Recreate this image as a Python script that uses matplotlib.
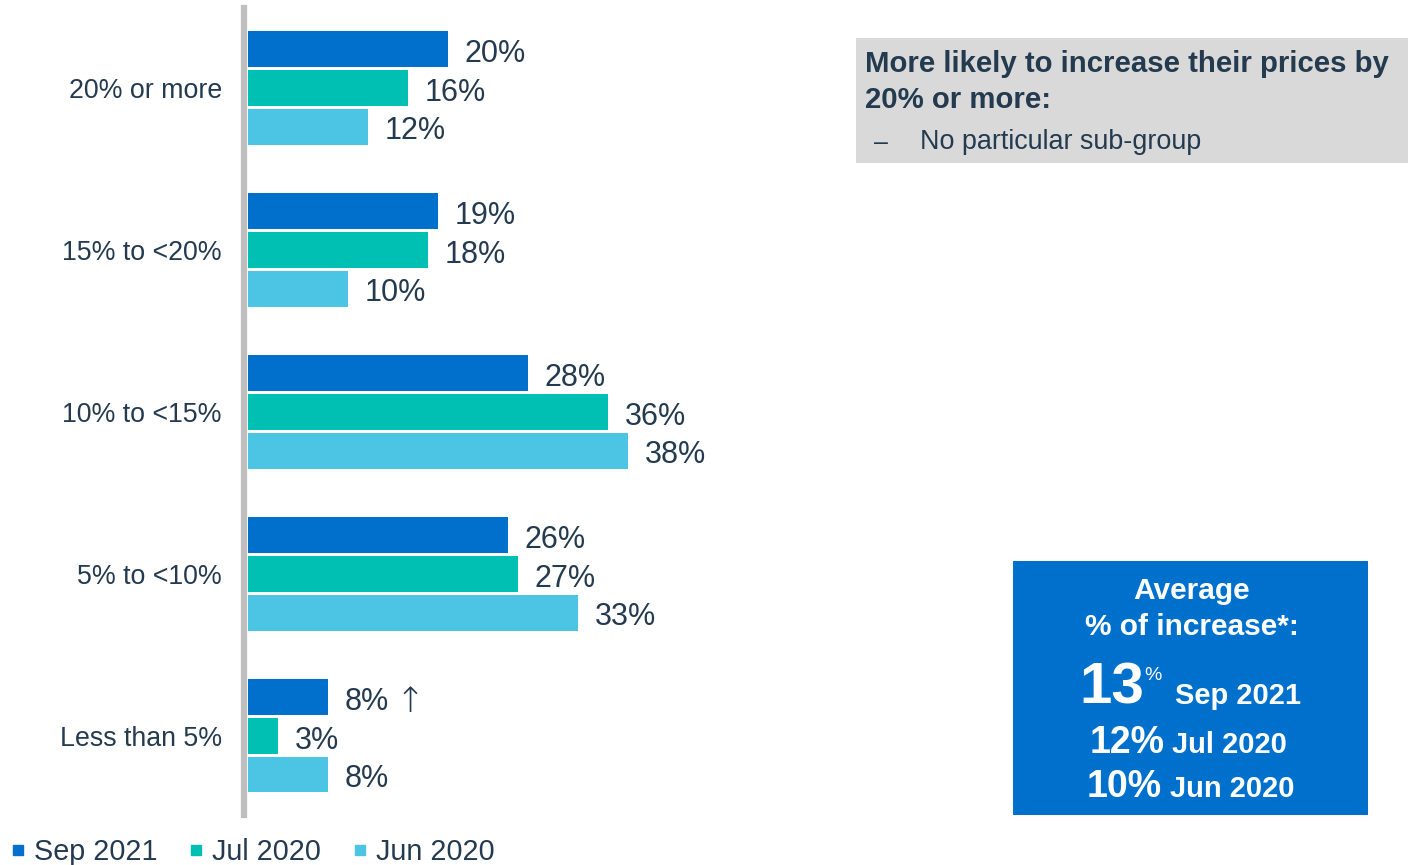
import matplotlib
matplotlib.use("Agg")
import matplotlib.pyplot as plt
from matplotlib.patches import Rectangle
from matplotlib.lines import Line2D

plt.rcParams['font.family'] = ['Liberation Sans', 'DejaVu Sans']

categories = ["20% or more", "15% to <20%", "10% to <15%", "5% to <10%", "Less than 5%"]
series_names = ["Sep 2021", "Jul 2020", "Jun 2020"]
sep2021 = [20, 19, 28, 26, 8]
jul2020 = [16, 18, 36, 27, 3]
jun2020 = [12, 10, 38, 33, 8]
series_values = [sep2021, jul2020, jun2020]
series_colors = ["#0070CD", "#00BFB3", "#4BC5E3"]
up_arrow = [False, False, False, False, True]  # significant rise for Sep 2021

avg_values = [13, 12, 10]

TEXT = "#243A4F"
W, H = 1412, 865

fig = plt.figure(figsize=(W / 100, H / 100), dpi=100)


def fx(x):
    return x / W


def fy(y):
    return 1 - y / H


# bar chart axes (pixel extents converted to figure fractions)
left_px, right_px, top_px, bot_px = 243.5, 848, 8, 815
ax = fig.add_axes([fx(left_px), fy(bot_px), fx(right_px - left_px), (bot_px - top_px) / H])

bar_h = 0.222
step = 0.238
for k, (vals, col) in enumerate(zip(series_values, series_colors)):
    ys = [i + (k - 1) * step for i in range(len(categories))]
    ax.barh(ys, vals, height=bar_h, color=col, left=0)
    for i, (y, v) in enumerate(zip(ys, vals)):
        lab = ax.annotate(f"{v}%", xy=(v, y), xytext=(12, -3.5),
                          textcoords="offset points", va="center", ha="left",
                          fontsize=22, color=TEXT)
        if k == 0 and up_arrow[i]:
            ax.annotate("\u2191", xy=(1, 0.5), xycoords=lab, xytext=(5, 0),
                        textcoords="offset points", va="center", ha="left",
                        fontsize=25, color=TEXT, family="DejaVu Sans",
                        fontweight="light")

ax.set_xlim(-0.45, 60)
ax.set_ylim(4.488, -0.494)
ax.set_yticks(range(len(categories)))
ax.set_yticklabels(categories, fontsize=19.3, color=TEXT)
ax.tick_params(axis="y", length=0, pad=15.5)
ax.set_xticks([])
for s in ["top", "right", "bottom"]:
    ax.spines[s].set_visible(False)
ax.spines["left"].set_color("#BFBFBF")
ax.spines["left"].set_linewidth(4.5)
ax.patch.set_visible(False)

# legend
handles = [Line2D([0], [0], marker="s", linestyle="none", markersize=7,
                  markerfacecolor=c, markeredgecolor=c) for c in series_colors]
fig.legend(handles, series_names, loc="lower left", bbox_to_anchor=(fx(11), fy(866)),
           ncol=3, frameon=False, fontsize=20.7, handlelength=0.5, handletextpad=0.3,
           columnspacing=1.1, labelcolor=TEXT, borderaxespad=0, borderpad=0)

# grey sub-group note
fig.patches.append(Rectangle((fx(856), fy(163)), fx(1408 - 856), (163 - 38) / H,
                             transform=fig.transFigure, facecolor="#D9D9D9",
                             edgecolor="none", zorder=-1))
fig.text(fx(865), fy(64), "More likely to increase their prices by", fontsize=21.2,
         fontweight="bold", color=TEXT, va="center", ha="left")
fig.text(fx(865), fy(100), "20% or more:", fontsize=21.2, fontweight="bold",
         color=TEXT, va="center", ha="left")
fig.text(fx(874), fy(143), "\u2013", fontsize=18, color=TEXT, va="center", ha="left")
fig.text(fx(920), fy(142), "No particular sub-group", fontsize=19.4, color=TEXT,
         va="center", ha="left")

# blue average box
fig.patches.append(Rectangle((fx(1013), fy(815)), fx(1368 - 1013), (815 - 561) / H,
                             transform=fig.transFigure, facecolor="#0070CD",
                             edgecolor="none", zorder=-1))
cx = fx(1192)
fig.text(cx, fy(591), "Average", fontsize=21.5, fontweight="bold", color="white",
         ha="center", va="center")
fig.text(cx, fy(627), "% of increase*:", fontsize=21.5, fontweight="bold",
         color="white", ha="center", va="center")

# headline figure for the latest wave, then the two earlier waves
fig.text(fx(1079), fy(704), f"{avg_values[0]}", fontsize=42, fontweight="bold",
         color="white", ha="left", va="baseline")
fig.text(fx(1144), fy(676), "%", fontsize=14, color="white", ha="left", va="center")
fig.text(fx(1175), fy(704), series_names[0], fontsize=21, fontweight="bold",
         color="white", ha="left", va="baseline")

row_base = [753, 797]
row_num_x = [1090, 1087]
row_name_x = [1172, 1170]
for v, name, b, xn, xs in zip(avg_values[1:], series_names[1:], row_base, row_num_x, row_name_x):
    fig.text(fx(xn), fy(b), f"{v}%", fontsize=27, fontweight="bold", color="white",
             ha="left", va="baseline")
    fig.text(fx(xs), fy(b), name, fontsize=21, fontweight="bold", color="white",
             ha="left", va="baseline")

fig.savefig("out.png", dpi=100)
